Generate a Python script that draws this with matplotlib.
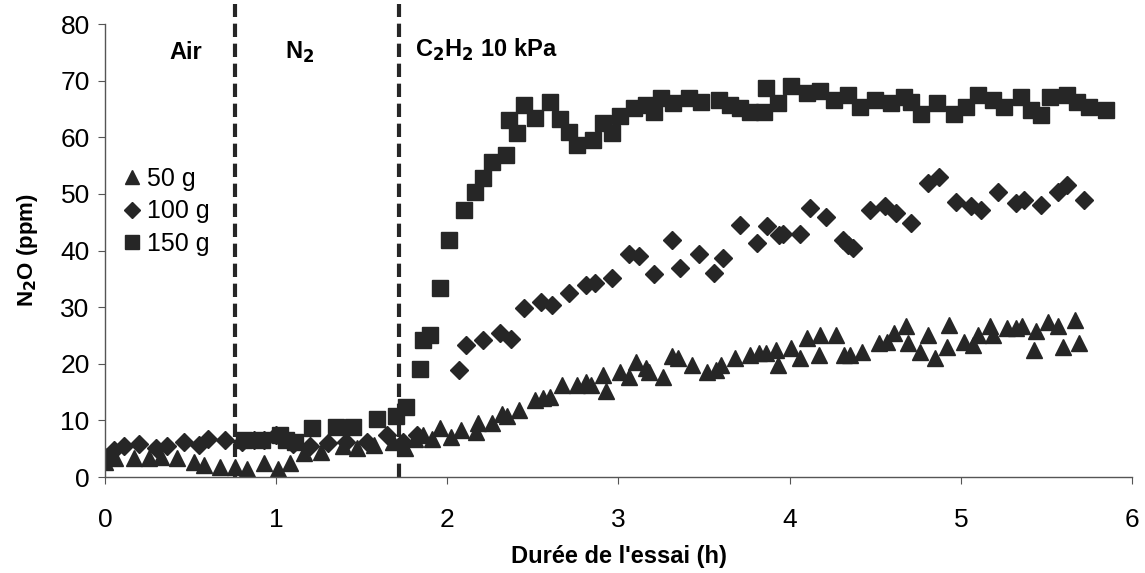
import matplotlib.pyplot as plt

plt.rcParams['font.family'] = ['Liberation Sans', 'DejaVu Sans']

# 50 g (triangles)
t50 = [0.00, 0.06, 0.17, 0.26, 0.33, 0.42, 0.52, 0.58, 0.67, 0.76, 0.83, 0.93, 1.01, 1.08,
       1.16, 1.26, 1.39, 1.47, 1.57, 1.68, 1.75, 1.81, 1.86, 1.91, 1.96, 2.02, 2.08, 2.17,
       2.18, 2.26, 2.32, 2.35, 2.42, 2.51, 2.56, 2.60, 2.67, 2.76, 2.81, 2.84, 2.91, 2.93,
       3.01, 3.06, 3.10, 3.16, 3.18, 3.26, 3.31, 3.35, 3.43, 3.52, 3.57, 3.60, 3.68, 3.77,
       3.82, 3.86, 3.92, 3.93, 4.01, 4.06, 4.10, 4.17, 4.18, 4.27, 4.32, 4.35, 4.42, 4.52,
       4.57, 4.61, 4.68, 4.69, 4.76, 4.81, 4.85, 4.92, 4.93, 5.02, 5.07, 5.10, 5.17, 5.19,
       5.27, 5.32, 5.36, 5.43, 5.44, 5.51, 5.57, 5.60, 5.67, 5.69]
n2o_50 = [2.7, 3.3, 3.3, 3.3, 3.6, 3.3, 2.7, 2.1, 1.8, 1.8, 1.5, 2.4, 1.5, 2.4,
          4.2, 4.5, 5.4, 5.1, 5.7, 6.2, 5.1, 6.8, 7.4, 6.8, 8.6, 7.1, 8.3, 8.0,
          9.5, 9.6, 11.2, 10.7, 11.8, 13.6, 13.9, 14.2, 16.3, 16.3, 16.8, 16.3, 18.0, 15.2,
          18.6, 17.7, 20.4, 19.2, 18.6, 17.7, 21.3, 21.0, 19.8, 18.6, 18.9, 19.8, 21.0, 21.6,
          21.9, 21.9, 22.4, 19.8, 22.7, 21.0, 24.5, 21.6, 25.1, 25.1, 21.6, 21.6, 22.1, 23.6,
          23.9, 25.4, 26.6, 23.6, 22.1, 25.1, 21.0, 23.0, 26.9, 23.9, 23.3, 25.1, 26.6, 25.1,
          26.3, 26.4, 26.7, 22.4, 25.8, 27.3, 26.6, 23.0, 27.7, 23.6]

# 100 g (diamonds)
t100 = [0.00, 0.05, 0.11, 0.20, 0.30, 0.36, 0.46, 0.55, 0.60, 0.70, 0.80, 0.87, 0.93, 1.00,
        1.10, 1.20, 1.30, 1.41, 1.53, 1.65, 1.74, 1.82, 2.07, 2.11, 2.21, 2.31, 2.37, 2.45,
        2.55, 2.61, 2.71, 2.81, 2.86, 2.96, 3.06, 3.12, 3.21, 3.31, 3.36, 3.47, 3.56, 3.61,
        3.71, 3.81, 3.87, 3.94, 3.96, 4.06, 4.12, 4.21, 4.31, 4.34, 4.37, 4.47, 4.56, 4.62,
        4.71, 4.81, 4.87, 4.97, 5.06, 5.12, 5.22, 5.32, 5.37, 5.47, 5.57, 5.62, 5.72]
n2o_100 = [3.6, 4.8, 5.4, 5.9, 5.1, 5.4, 6.2, 5.7, 6.8, 6.5, 6.2, 6.5, 6.5, 7.4,
           5.8, 5.5, 6.0, 6.2, 6.2, 7.4, 6.2, 7.4, 18.9, 23.3, 24.2, 25.4, 24.3, 29.8,
           31.0, 30.4, 32.5, 33.9, 34.2, 35.1, 39.4, 39.0, 35.9, 41.9, 36.9, 39.4, 36.1, 38.6,
           44.5, 41.4, 44.3, 42.8, 43.0, 43.0, 47.5, 46.0, 41.9, 41.0, 40.5, 47.1, 47.8, 46.6,
           44.9, 51.9, 53.0, 48.5, 47.8, 47.2, 50.3, 48.4, 48.9, 48.1, 50.4, 51.6, 48.9]

# 150 g (squares)
t150 = [0.81, 0.92, 1.02, 1.06, 1.11, 1.21, 1.35, 1.45, 1.59, 1.70, 1.76, 1.84, 1.86, 1.90,
        1.96, 2.01, 2.10, 2.16, 2.21, 2.26, 2.34, 2.36, 2.41, 2.45, 2.51, 2.60, 2.66, 2.71,
        2.76, 2.85, 2.91, 2.96, 3.01, 3.09, 3.16, 3.21, 3.25, 3.32, 3.41, 3.48, 3.59, 3.65,
        3.71, 3.77, 3.85, 3.86, 3.93, 4.01, 4.10, 4.18, 4.26, 4.34, 4.41, 4.50, 4.59, 4.67,
        4.71, 4.77, 4.86, 4.96, 5.03, 5.10, 5.19, 5.25, 5.35, 5.41, 5.47, 5.52, 5.62, 5.68,
        5.75, 5.85]
n2o_150 = [6.5, 6.5, 7.4, 6.5, 6.2, 8.6, 8.9, 8.9, 10.2, 10.8, 12.4, 19.1, 24.2, 25.1,
           33.3, 41.9, 47.2, 50.4, 52.8, 55.7, 56.9, 63.1, 60.7, 65.7, 63.4, 66.3, 63.2, 61.0,
           58.7, 59.5, 62.5, 60.7, 63.7, 65.1, 65.7, 64.5, 66.9, 66.0, 66.9, 66.3, 66.6, 65.7,
           65.1, 64.5, 64.5, 68.7, 66.0, 69.0, 67.8, 68.1, 66.6, 67.5, 65.4, 66.6, 66.0, 67.2,
           66.3, 64.2, 66.0, 64.2, 65.4, 67.5, 66.6, 65.4, 67.2, 64.8, 63.9, 67.2, 67.5, 66.3,
           65.4, 64.8]

phases = [0.76, 1.72]
ink = '#262626'

fig = plt.figure(figsize=(11.45, 5.73), dpi=100)
ax = fig.add_axes([0.0917, 0.1675, 0.8969, 0.7905])

ax.plot(t50, n2o_50, linestyle='none', marker='^', ms=12, color=ink, label='50 g')
ax.plot(t100, n2o_100, linestyle='none', marker='D', ms=9, color=ink, label='100 g')
ax.plot(t150, n2o_150, linestyle='none', marker='s', ms=11.5, color=ink, label='150 g')

for xp in phases:
    ax.axvline(xp, ymin=0, ymax=1.045, color=ink, lw=3, ls=(0, (3.2, 1.6)), clip_on=False)

ax.set_xlim(0, 6)
ax.set_ylim(0, 80)
ax.set_xticks(range(0, 7))
ax.set_yticks(range(0, 81, 10))
ax.tick_params(labelsize=19, direction='out', length=5, color='#555555')
ax.tick_params(axis='x', pad=17)
ax.tick_params(axis='y', pad=6)
for s in ['top', 'right']:
    ax.spines[s].set_visible(False)
for s in ['left', 'bottom']:
    ax.spines[s].set_color('#555555')
    ax.spines[s].set_linewidth(1)

ax.set_xlabel("Durée de l'essai (h)", fontsize=17, fontweight='bold', labelpad=10)
ax.set_ylabel('N$_\\mathbf{2}$O (ppm)', fontsize=16, fontweight='bold', labelpad=15)

ax.text(0.47, 75, 'Air', fontsize=17, fontweight='bold', ha='center', va='center')
ax.text(1.14, 75, 'N$_\\mathbf{2}$', fontsize=17, fontweight='bold', ha='center', va='center')
ax.text(1.81, 75.5, 'C$_\\mathbf{2}$H$_\\mathbf{2}$ 10 kPa', fontsize=17, fontweight='bold',
        ha='left', va='center')

ax.legend(loc='upper left', bbox_to_anchor=(-0.004, 0.735), frameon=False, fontsize=18,
          handlelength=0.7, handletextpad=0.25, labelspacing=0.35, markerscale=0.85)

plt.savefig('out.png', dpi=100)
